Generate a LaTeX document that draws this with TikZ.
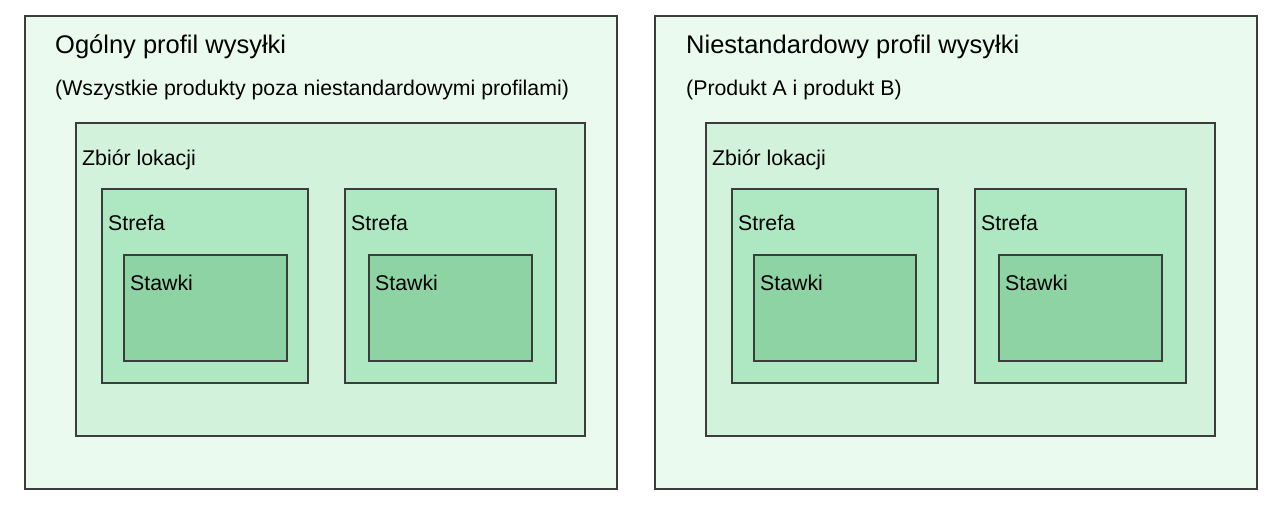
\documentclass[tikz,border=0pt]{standalone}
\usepackage{fontspec}
\setmainfont{Liberation Sans}
\definecolor{bord}{HTML}{3C3C3C}
\definecolor{fA}{HTML}{EBFAEF}
\definecolor{fB}{HTML}{D2F2DC}
\definecolor{fC}{HTML}{AEE8C2}
\definecolor{fD}{HTML}{8ED3A3}
\tikzset{
  box/.style={draw=bord, line width=2pt, anchor=north west, inner sep=0pt, outer sep=0pt},
  profil/.style={box, fill=fA},
  zbior/.style={box, fill=fB},
  strefa/.style={box, fill=fC},
  stawki/.style={box, fill=fD},
  lbl/.style={anchor=base west, inner sep=0pt, font=\fontsize{21.3}{24}\selectfont},
  ttl/.style={anchor=base west, inner sep=0pt, font=\fontsize{25.5}{29}\selectfont}
}
\begin{document}
\begin{tikzpicture}[x=1pt,y=-1pt]
\useasboundingbox (0,0) rectangle (1282,506);
% left profile
\node[profil, minimum width=592pt, minimum height=473pt] (pL) at (25,16) {};
\node[ttl] (tL) at (55,53) {Ogólny profil wysyłki};
\node[lbl] (sL) at (55,95) {(Wszystkie produkty poza niestandardowymi profilami)};
\node[zbior, minimum width=509pt, minimum height=313pt] (zL) at (76,123) {};
\node[lbl] (zLt) at (82,165) {Zbiór lokacji};
\node[strefa, minimum width=206pt, minimum height=194pt] (sL1) at (102,189) {};
\node[lbl] (sL1t) at (108,230.5) {Strefa};
\node[stawki, minimum width=163pt, minimum height=106pt] (kL1) at (124,255) {};
\node[lbl] (kL1t) at (130,290) {Stawki};
\node[strefa, minimum width=211pt, minimum height=194pt] (sL2) at (345,189) {};
\node[lbl] (sL2t) at (351,230.5) {Strefa};
\node[stawki, minimum width=163pt, minimum height=106pt] (kL2) at (369,255) {};
\node[lbl] (kL2t) at (375,290) {Stawki};
% right profile
\node[profil, minimum width=602pt, minimum height=473pt] (pR) at (655,16) {};
\node[ttl] (tR) at (686,53) {Niestandardowy profil wysyłki};
\node[lbl] (sR) at (686,95) {(Produkt A i produkt B)};
\node[zbior, minimum width=509pt, minimum height=313pt] (zR) at (706,123) {};
\node[lbl] (zRt) at (712,165) {Zbiór lokacji};
\node[strefa, minimum width=206pt, minimum height=194pt] (sR1) at (732,189) {};
\node[lbl] (sR1t) at (738,230.5) {Strefa};
\node[stawki, minimum width=162pt, minimum height=106pt] (kR1) at (754,255) {};
\node[lbl] (kR1t) at (760,290) {Stawki};
\node[strefa, minimum width=211pt, minimum height=194pt] (sR2) at (975,189) {};
\node[lbl] (sR2t) at (981,230.5) {Strefa};
\node[stawki, minimum width=163pt, minimum height=106pt] (kR2) at (999,255) {};
\node[lbl] (kR2t) at (1005,290) {Stawki};
\end{tikzpicture}
\end{document}
